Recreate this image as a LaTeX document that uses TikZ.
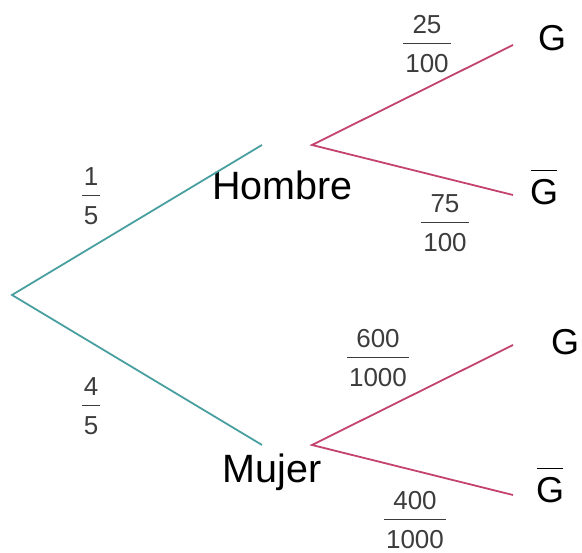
\documentclass[tikz,border=0pt]{standalone}
\usepackage{fontspec}
\setmainfont{Liberation Sans}
\definecolor{teal1}{HTML}{4A9FA0}
\definecolor{rose1}{HTML}{C4426E}
\definecolor{gray1}{HTML}{3C3C3C}
\newcommand{\fr}[2]{\setlength{\arrayrulewidth}{1.2pt}\begin{tabular}{@{\hspace{2pt}}c@{\hspace{2pt}}}#1\\\hline\rule{0pt}{28pt}#2\end{tabular}}
\begin{document}
\begin{tikzpicture}[x=1pt,y=-1pt,
  tbranch/.style={draw=teal1,line width=1.8pt},
  rbranch/.style={draw=rose1,line width=1.8pt},
  bigtext/.style={anchor=base,inner sep=0pt,font=\fontsize{39.5}{44}\selectfont},
  gtext/.style={anchor=base,inner sep=0pt,font=\fontsize{36}{40}\selectfont},
  fraclab/.style={inner sep=0pt,text=gray1,yshift=-4pt,font=\fontsize{26}{30}\selectfont},
  gbarline/.style={draw=black,line width=1.4pt}]
\useasboundingbox (0,0) rectangle (582,553);
% tree points
\coordinate (root) at (12,295);
\coordinate (hin) at (262,145);
\coordinate (hout) at (312,145);
\coordinate (min) at (262,445);
\coordinate (mout) at (312,445);
\coordinate (g1) at (513,45);
\coordinate (g2) at (513,195);
\coordinate (g3) at (513,345);
\coordinate (g4) at (513,495);
% labels
\node[bigtext] (hombre) at (282.5,200) {Hombre};
\node[bigtext] (mujer) at (272,483) {Mujer};
\node[gtext] (G1) at (552,51) {G};
\node[gtext] (G2) at (544,205) {G};
\node[gtext] (G3) at (565,355) {G};
\node[gtext] (G4) at (550,503) {G};
\draw[gbarline] ([yshift=9pt,xshift=1.5pt]G2.north west) -- ([yshift=9pt,xshift=-1.5pt]G2.north east);
\draw[gbarline] ([yshift=9pt,xshift=1.5pt]G4.north west) -- ([yshift=9pt,xshift=-1.5pt]G4.north east);
% branches
\draw[tbranch] (hin) -- (root) -- (min);
\draw[rbranch] (g1) -- (hout) -- (g2);
\draw[rbranch] (g3) -- (mout) -- (g4);
% probabilities
\node[fraclab] (p1) at (91,195) {\fr{1}{5}};
\node[fraclab] (p2) at (91,405) {\fr{4}{5}};
\node[fraclab] (p3) at (427,43) {\fr{25}{100}};
\node[fraclab] (p4) at (445,222) {\fr{75}{100}};
\node[fraclab] (p5) at (378,357) {\fr{600}{1000}};
\node[fraclab] (p6) at (415,519) {\fr{400}{1000}};
\end{tikzpicture}
\end{document}
